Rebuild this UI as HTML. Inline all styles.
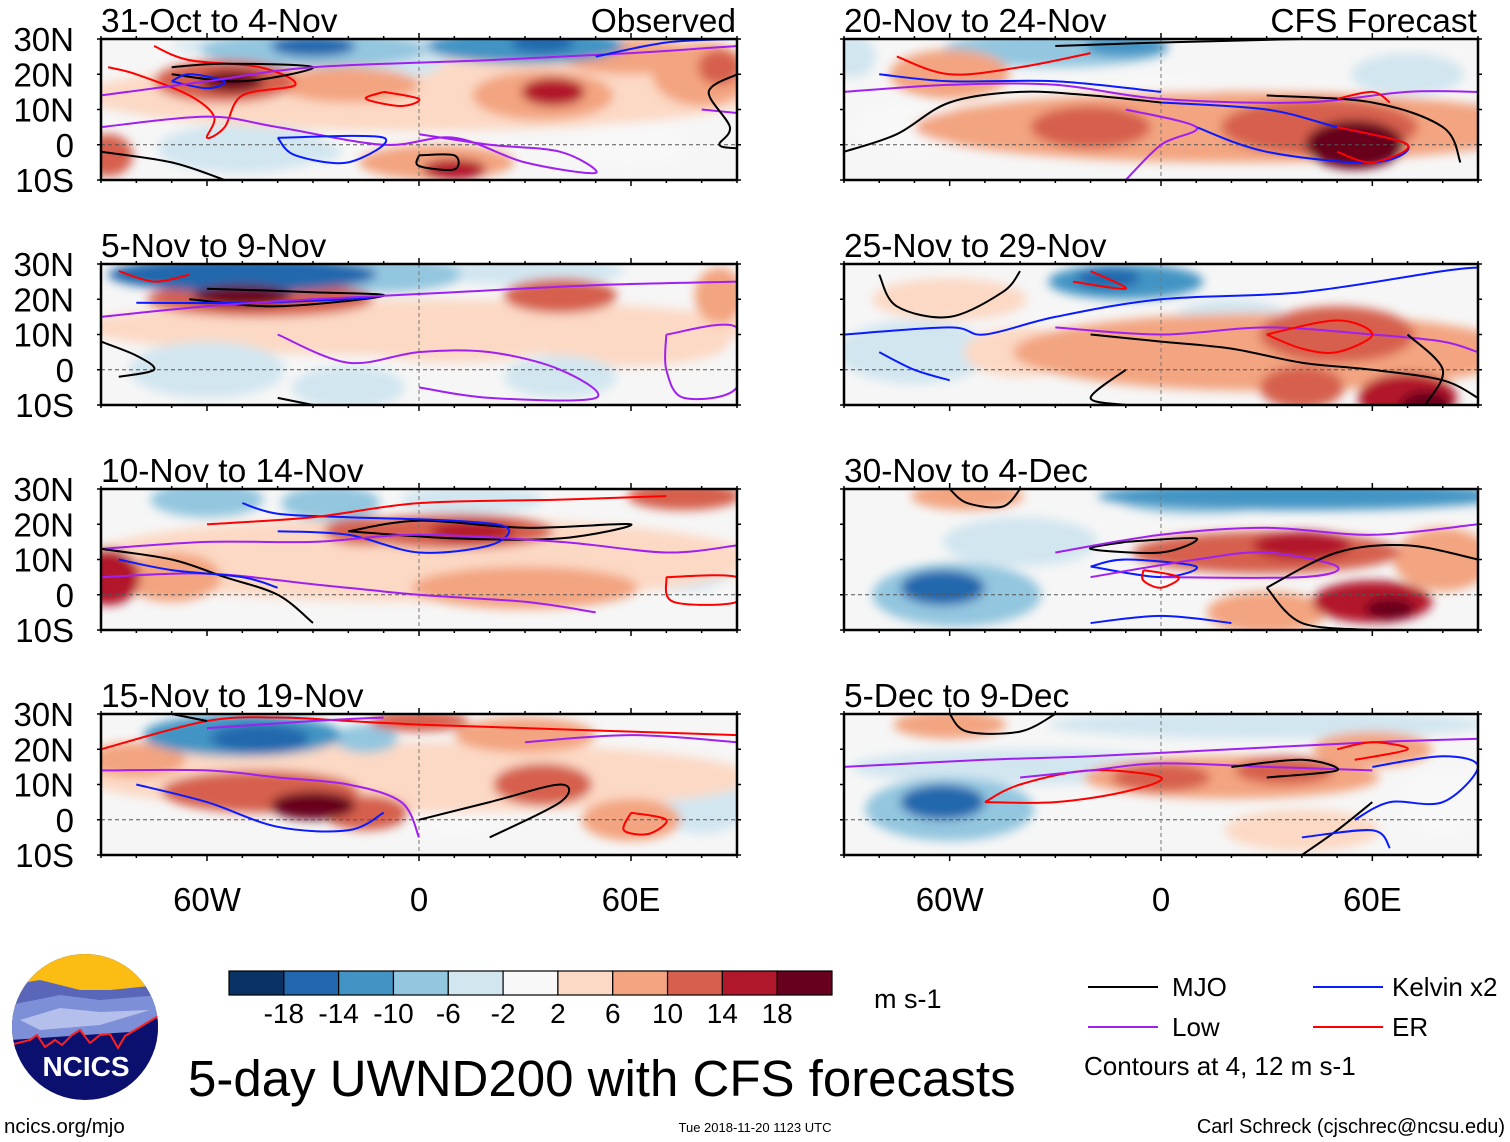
<!DOCTYPE html>
<html><head><meta charset="utf-8">
<style>
html,body{margin:0;padding:0;background:#fff;}
body{width:1510px;height:1142px;overflow:hidden;font-family:"Liberation Sans",sans-serif;position:relative;}
svg text{font-family:"Liberation Sans",sans-serif;}
</style></head>
<body>
<svg id="fig" width="1510" height="1142" viewBox="0 0 1510 1142" xmlns="http://www.w3.org/2000/svg" style="position:absolute;left:0;top:0">
<defs>
<filter id="blur" x="-20%" y="-40%" width="140%" height="180%"><feGaussianBlur stdDeviation="5"/></filter>
</defs>
</svg>
<script>
// ---- data ----
const panelTitles=["31-Oct to 4-Nov","5-Nov to 9-Nov","10-Nov to 14-Nov","15-Nov to 19-Nov","20-Nov to 24-Nov","25-Nov to 29-Nov","30-Nov to 4-Dec","5-Dec to 9-Dec"];
const latTicks=["30N","20N","10N","0","10S"];
const lonTickLabels=["60W","0","60E"];
const lonTickValues=[-60,0,60];
const cbarLevels=[-18,-14,-10,-6,-2,2,6,10,14,18];
const cbarColors=["#0b3265","#2267ad","#4394c4","#93c6df","#d2e6f0","#f8f8f8","#fcd9c5","#f3a480","#d6604d","#b2182b","#67001f"];
// anomaly blobs per panel: [lon, lat, halfwidth lon, halfheight lat, value m/s]
const blobs0=[[0,14,95,10,4],[0,28,70,4,-6],[-30,27,32,5,-10],[-30,28,12,3,-16],[30,28,28,5,-12],[35,29,9,3,-18],[-5,24,12,5,-6],[-55,18,20,6,10],[-53,18,9,3,18],[35,14,20,7,8],[38,15,9,4,14],[-20,17,20,5,6],[5,-5,22,5,8],[10,-7,9,3,14],[-88,-3,7,6,10],[-50,-1,24,7,-3],[-30,-2,8,3,-6],[60,0,16,6,-2],[80,20,14,9,6],[85,22,6,5,12],[60,25,20,5,6]];
const blobs1=[[0,12,95,8,4],[-50,27,38,5,-18],[-10,27,22,5,-10],[30,28,28,4,-6],[-45,20,32,5,10],[-50,21,14,3,18],[40,21,16,5,10],[85,21,7,8,8],[-60,0,22,8,-6],[-20,-5,16,6,-3],[40,-2,16,6,-6],[10,8,28,6,4],[60,8,28,7,4]];
const blobs2=[[0,10,95,12,4],[-60,27,16,5,-10],[-25,26,14,5,-8],[15,27,20,4,-5],[10,18,28,5,10],[15,18,12,3,16],[-15,18,12,4,10],[-88,5,9,8,16],[-70,5,14,7,8],[-50,12,14,6,5],[30,2,32,6,6],[75,28,16,4,10],[-5,5,10,5,-3],[75,8,14,7,-3]];
const blobs3=[[0,12,95,10,4],[-50,24,28,6,-12],[-45,23,14,4,-18],[-15,23,9,4,-8],[0,28,14,3,12],[-80,17,14,5,8],[-45,8,28,6,12],[-30,4,12,4,18],[-15,2,12,5,10],[35,10,14,6,10],[60,0,14,6,8],[30,24,20,5,6],[80,5,14,9,-3],[10,3,14,7,-2]];
const blobs4=[[20,5,90,10,6],[-30,27,32,5,-8],[-10,28,12,3,-12],[-60,20,17,7,8],[-20,5,17,6,10],[45,5,28,8,12],[55,0,14,7,18],[-70,5,17,7,-2],[88,5,6,7,-4],[-88,25,7,6,-4],[0,15,16,4,-2],[70,20,16,6,-3]];
const blobs5=[[30,5,72,11,6],[-10,25,22,5,-12],[-15,26,9,3,-18],[50,10,22,8,12],[40,-5,12,6,12],[70,-8,14,7,14],[75,-10,7,4,18],[-70,5,22,9,-3],[20,15,16,5,-3],[-60,20,22,6,4],[-40,5,16,7,4]];
const blobs6=[[40,28,58,4,-14],[10,27,22,4,-10],[-55,28,16,4,8],[-58,0,24,9,-10],[-62,2,12,5,-16],[-40,15,22,7,-4],[30,12,38,6,12],[40,14,14,4,16],[60,-2,17,6,14],[65,-4,7,3,18],[30,-5,17,6,6],[80,10,14,9,6]];
const blobs7=[[30,27,62,4,-6],[-40,15,48,5,-4],[-60,3,24,9,-10],[-62,5,12,5,-16],[20,12,42,6,8],[0,12,14,4,12],[35,14,14,4,12],[60,20,17,5,8],[-60,27,16,4,6],[40,-3,22,6,4],[80,5,12,9,-2]];
const allBlobs=[blobs0,blobs1,blobs2,blobs3,blobs4,blobs5,blobs6,blobs7];
// contour lines: [type, [lon,lat,...]]  type: m=MJO k=Kelvin l=Low e=ER
const lines0=[["e",[-75,28,-65,24,-45,22,-35,17,-50,14,-55,5,-60,2,-58,8,-65,14,-80,20,-88,22]],["m",[-70,22,-55,23,-30,22,-50,18,-70,20]],["k",[-70,18,-60,16,-55,18,-65,20,-70,18]],["l",[-90,14,-60,18,-30,22,20,24,60,26,90,28]],["l",[-90,5,-60,8,-40,5,-10,0,10,2,30,-5,50,-8,40,-2,20,0,0,3]],["k",[-40,2,-10,2,-20,-5,-35,-3,-40,2]],["m",[0,-3,10,-3,10,-7,0,-6,0,-3]],["m",[-90,-2,-70,-5,-55,-10]],["e",[-10,15,0,13,-5,11,-15,13,-10,15]],["l",[80,10,90,9]],["m",[90,20,82,15,88,5,85,0,90,-1]],["k",[50,25,70,29,90,30]]];
const lines1=[["m",[-60,23,-30,22,-10,21,-40,18,-65,20]],["k",[-80,19,-50,19,-20,20,-10,21]],["l",[-90,15,-60,18,-30,20,10,22,50,24,90,25]],["l",[-40,10,-20,2,0,5,20,5,40,0,50,-8,20,-8,0,-5]],["l",[70,10,90,12,90,-5,75,-8,70,0,70,10]],["e",[-85,28,-75,25,-65,27]],["m",[-90,8,-80,4,-75,0,-85,-2]],["m",[-40,-8,-20,-12]]];
const lines2=[["m",[-20,18,0,21,30,19,60,20,40,16,10,16,-20,18]],["k",[-50,26,-40,23,-20,22,10,21,25,19,20,14,0,12,-20,17,-40,18]],["l",[-90,13,-60,15,-30,15,0,17,40,15,70,12,90,14]],["l",[-90,5,-60,6,-30,3,0,0,30,-2,50,-5]],["e",[-60,20,-30,22,0,26,40,27,70,28]],["e",[70,5,90,5,90,-2,72,-2,70,5]],["m",[-90,13,-70,10,-55,5,-40,0,-30,-8]],["k",[-85,10,-70,7,-50,5,-40,2]]];
const lines3=[["e",[-90,20,-60,28,-40,29,-20,28,0,27,30,26,60,25,90,24]],["l",[-90,14,-60,14,-40,12,-20,10,-5,5,0,-5]],["k",[-80,10,-60,5,-40,-2,-20,-3,-10,2]],["m",[0,0,20,5,40,10,40,5,20,-5]],["l",[-60,26,-30,28,-10,29]],["e",[60,2,70,0,65,-4,58,-3,60,2]],["l",[30,22,60,24,90,22]],["m",[-70,30,-60,28]]];
const lines4=[["m",[-90,-2,-75,3,-60,12,-40,15,-20,14,0,12]],["k",[-80,20,-60,18,-30,18,0,15]],["l",[-90,15,-60,17,-30,17,0,13,40,12,70,15,90,15]],["e",[-75,25,-60,20,-40,22,-20,26]],["k",[0,12,30,10,50,5,70,0,60,-5,30,-2,10,5]],["m",[30,14,60,12,80,5,85,-5]],["e",[50,5,70,0,60,-5,50,-2]],["e",[50,13,60,15,65,12]],["m",[-30,28,0,29,40,30]],["l",[-10,10,10,5,0,0,-10,-10]]];
const lines5=[["m",[-80,27,-75,18,-60,15,-45,22,-40,28]],["k",[-90,10,-60,12,-50,10,-30,15,0,20,40,22,80,28,90,29]],["l",[-30,12,0,10,30,12,60,10,80,8,90,5]],["e",[30,10,50,14,60,10,50,5,40,6,30,10]],["m",[-20,10,0,8,20,6,40,2,60,0,80,-3,90,-8]],["m",[70,10,80,0,75,-10]],["m",[-10,0,-20,-8,-10,-10]],["k",[-80,5,-70,0,-60,-3]],["e",[-20,28,-10,23,-25,25]]];
const lines6=[["m",[-60,30,-55,26,-45,25,-40,30]],["m",[-10,15,10,16,0,12,-20,13,-10,15]],["k",[-20,8,0,5,10,8,-10,10,-20,8]],["l",[-30,12,0,17,30,19,60,17,90,20]],["l",[-20,5,10,10,30,12,50,8,40,5,0,5]],["m",[30,2,50,12,70,14,90,10]],["m",[30,2,40,-8,60,-10]],["k",[-20,-8,0,-6,20,-8]],["e",[-5,7,5,5,0,2,-5,4,-5,7]]];
const lines7=[["m",[-60,30,-55,25,-40,25,-30,30]],["e",[-50,5,-40,10,-20,14,0,12,-10,8,-30,5,-50,5]],["l",[-90,15,-50,17,-20,18,20,20,60,22,90,23]],["l",[-40,12,-20,14,0,16,30,15,60,14]],["m",[20,15,40,17,50,14,30,12]],["k",[60,15,80,18,90,15,80,5,65,5,55,0]],["m",[60,5,50,-3,40,-10]],["e",[50,20,60,22,70,20,55,17]],["k",[40,-5,60,-3,65,-8]]];
const allLines=[lines0,lines1,lines2,lines3,lines4,lines5,lines6,lines7];

// ---- layout ----
const NS="http://www.w3.org/2000/svg";
const svg=document.getElementById('fig');
function el(tag,attrs,parent,text){const e=document.createElementNS(NS,tag);for(const k in attrs)e.setAttribute(k,attrs[k]);if(text!==undefined)e.textContent=text;(parent||svg).appendChild(e);return e;}
const colX=[101,844], colW=[636,634], rowY=[39,264,489,714], PH=141;
const lineColors={m:"#000",k:"#0a1bff",l:"#a020f0",e:"#ff0000"};
function colorFor(v){let i=0;while(i<cbarLevels.length&&v>=cbarLevels[i])i++;return cbarColors[i];}
function smoothPath(P){
  let d='M'+P[0][0].toFixed(1)+','+P[0][1].toFixed(1);
  for(let i=0;i<P.length-1;i++){
    const p0=P[Math.max(0,i-1)],p1=P[i],p2=P[i+1],p3=P[Math.min(P.length-1,i+2)];
    const c1=[p1[0]+(p2[0]-p0[0])/6,p1[1]+(p2[1]-p0[1])/6];
    const c2=[p2[0]-(p3[0]-p1[0])/6,p2[1]-(p3[1]-p1[1])/6];
    d+=' C'+c1.map(v=>v.toFixed(1)).join(',')+' '+c2.map(v=>v.toFixed(1)).join(',')+' '+p2[0].toFixed(1)+','+p2[1].toFixed(1);
  }
  return d;
}

for(let p=0;p<8;p++){
  const c=p<4?0:1, r=p%4;
  const X0=colX[c], W=colW[c], Y0=rowY[r];
  const xs=lon=>X0+(lon+90)/180*W;
  const ys=lat=>Y0+(30-lat)/40*PH;
  const g=el('g',{},svg);
  
  
  const cid='clip'+p;
  const cp=el('clipPath',{id:cid},svg.querySelector('defs'));
  el('rect',{x:X0,y:Y0,width:W,height:PH},cp);
  const field=el('g',{'clip-path':'url(#'+cid+')'},g);
  el('rect',{x:X0,y:Y0,width:W,height:PH,fill:'#f6f6f6'},field);
  const fb=el('g',{filter:'url(#blur)'},field);
  const bl=allBlobs[p].slice().sort((a,b)=>Math.abs(a[4])-Math.abs(b[4]));
  bl.forEach(b=>{
    const e=el('ellipse',{cx:xs(b[0]),cy:ys(b[1]),rx:b[2]/180*W,ry:b[3]/40*PH,fill:colorFor(b[4])},fb);
    
    
  });
  el('line',{x1:X0,x2:X0+W,y1:ys(0),y2:ys(0),stroke:'#555','stroke-dasharray':'4,3','stroke-width':1},field);
  el('line',{x1:xs(0),x2:xs(0),y1:Y0,y2:Y0+PH,stroke:'#777','stroke-dasharray':'4,3','stroke-width':1},field);
  allLines[p].forEach(L=>{
    const pts=[];for(let i=0;i<L[1].length;i+=2)pts.push([xs(L[1][i]),ys(L[1][i+1])]);
    const pl=el('path',{d:smoothPath(pts),fill:'none',stroke:lineColors[L[0]],'stroke-width':2,'stroke-linejoin':'round'},field);
    
    
  });
  el('rect',{x:X0,y:Y0,width:W,height:PH,fill:'none',stroke:'#000','stroke-width':2.5},g);
  for(let lon=-90;lon<=90;lon+=10){
    const major=lon%60===0;
    el('line',{x1:xs(lon),x2:xs(lon),y1:Y0+PH,y2:Y0+PH+(major?6:3),stroke:'#000','stroke-width':1.5},g);
    el('line',{x1:xs(lon),x2:xs(lon),y1:Y0,y2:Y0-(major?6:3),stroke:'#000','stroke-width':1.5},g);
  }
  for(let lat=-10;lat<=30;lat+=10){
    el('line',{x1:X0,x2:X0-4,y1:ys(lat),y2:ys(lat),stroke:'#000','stroke-width':1.5},g);
    el('line',{x1:X0+W,x2:X0+W+4,y1:ys(lat),y2:ys(lat),stroke:'#000','stroke-width':1.5},g);
  }
  const t=el('text',{x:X0,y:Y0-7,'font-size':33.5},g,panelTitles[p]);
  
  
  if(r===0){
    const lab=el('text',{x:X0+W-1,y:Y0-7,'font-size':33.5,'text-anchor':'end'},g,c===0?'Observed':'CFS Forecast');
    
    
  }
  if(c===0){
    latTicks.forEach((s,i)=>{
      const tl=el('text',{x:74,y:Y0+i*PH/4+12,'font-size':33,'text-anchor':'end'},g,s);
      
      
    });
  }
  if(r===3){
    lonTickValues.forEach((v,i)=>{
      const tl=el('text',{x:xs(v),y:911,'font-size':33,'text-anchor':'middle'},g,lonTickLabels[i]);
      
      
    });
  }
}
const cb=el('g',{},svg);


const cbX=229,cbW=603/11;
cbarColors.forEach((col,i)=>{el('rect',{x:cbX+i*cbW,y:971,width:cbW,height:24,fill:col,stroke:'#000','stroke-width':1.2},cb);});
cbarLevels.forEach((v,i)=>{const t=el('text',{x:cbX+(i+1)*cbW,y:1023,'font-size':28,'text-anchor':'middle'},cb,String(v));});
</script>
<svg style="position:absolute;left:0;top:0" width="1510" height="1142">
<defs><clipPath id="logoclip2"><circle cx="85" cy="1027" r="73"/></clipPath></defs>
<g>
<g clip-path="url(#logoclip2)">
<rect x="10" y="950" width="150" height="160" fill="#0b0f6e"/>
<rect x="10" y="950" width="150" height="45" fill="#fbbd14"/>
<polygon points="10,985 40,980 80,990 110,990 160,985 160,1020 10,1030" fill="#5a66b8"/>
<polygon points="10,1005 60,995 100,1000 160,995 160,1030 10,1040" fill="#7d8fd6"/>
<polygon points="20,1020 60,1008 100,1012 150,1010 100,1025 40,1030" fill="#b5bfec"/>
<polyline points="10,1045 30,1040 37,1035 45,1047 55,1040 62,1045 72,1035 80,1030 90,1043 100,1035 110,1034 118,1048 125,1036 160,1015 160,1050 10,1050" fill="#0b0f6e" stroke="none"/>
<polyline points="10,1045 30,1040 37,1035 45,1047 55,1040 62,1045 72,1035 80,1030 90,1043 100,1035 110,1034 118,1048 125,1036 160,1015" fill="none" stroke="#ff1f1f" stroke-width="2"/>
</g>
<text x="86" y="1076" font-size="28" font-weight="bold" fill="#fff" text-anchor="middle" font-family="Liberation Sans,sans-serif">NCICS</text>
</g>
<text x="874" y="1008" font-size="27" font-family="Liberation Sans,sans-serif">m s-1</text>
<text x="188" y="1096" font-size="51" font-family="Liberation Sans,sans-serif">5-day UWND200 with CFS forecasts</text>
<g font-family="Liberation Sans,sans-serif" font-size="26">
<line x1="1088" x2="1158" y1="987" y2="987" stroke="#000" stroke-width="2"/><text x="1172" y="996">MJO</text>
<line x1="1088" x2="1158" y1="1027" y2="1027" stroke="#a020f0" stroke-width="2"/><text x="1172" y="1036">Low</text>
<line x1="1313" x2="1383" y1="987" y2="987" stroke="#0a1bff" stroke-width="2"/><text x="1392" y="996">Kelvin x2</text>
<line x1="1313" x2="1383" y1="1027" y2="1027" stroke="#ff0000" stroke-width="2"/><text x="1392" y="1036">ER</text>
<text x="1084" y="1075" font-size="26">Contours at 4, 12 m s-1</text>
</g>
<text x="4" y="1133" font-size="20.5" font-family="Liberation Sans,sans-serif">ncics.org/mjo</text>
<text x="755" y="1132" font-size="13" text-anchor="middle" font-family="Liberation Sans,sans-serif">Tue 2018-11-20 1123 UTC</text>
<text x="1505" y="1133" font-size="20" text-anchor="end" font-family="Liberation Sans,sans-serif">Carl Schreck (cjschrec@ncsu.edu)</text>
</svg>
</body></html>
